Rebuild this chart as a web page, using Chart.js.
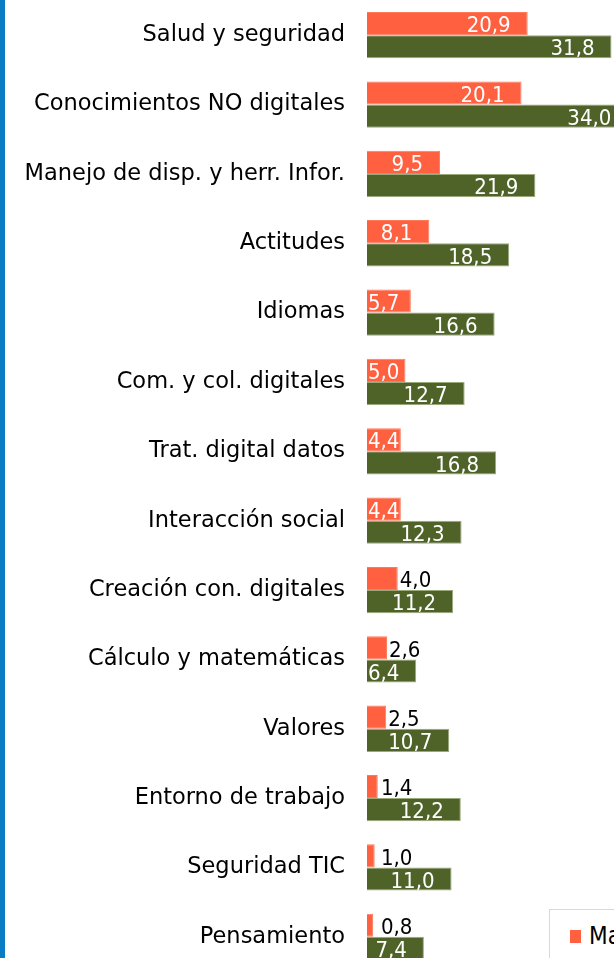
<!DOCTYPE html>
<html>
<head>
<meta charset="utf-8">
<script src="https://cdn.jsdelivr.net/npm/chart.js@4"></script>
<style>
  html, body { margin: 0; padding: 0; background: #fff; }
  body { width: 614px; height: 958px; overflow: hidden; position: relative; }
  #franja { position: absolute; left: 0; top: 0; width: 5px; height: 958px; background: #0a7cc4; z-index: 2; }
  #grafico { position: absolute; left: 5px; top: -35px; }
  #leyenda {
    position: absolute; left: 549px; top: 909px; width: 200px; height: 120px;
    border: 1px solid #d9d9d9; background: #fff;
    font: 24px "DejaVu Sans Condensed", Tahoma, sans-serif; color: #000;
  }
  #leyenda .item { position: absolute; left: 20px; display: flex; align-items: center; white-space: nowrap; }
  #leyenda .cuadro { width: 11px; height: 13px; margin-right: 8px; }
</style>
</head>
<body>
<div id="franja"></div>
<canvas id="grafico" width="708" height="1042"></canvas>
<div id="leyenda"></div>

<script>
// ==============================
// DATOS
// ==============================
const categorias = [
  "Salud y seguridad",
  "Conocimientos NO digitales",
  "Manejo de disp. y herr. Infor.",
  "Actitudes",
  "Idiomas",
  "Com. y col. digitales",
  "Trat. digital datos",
  "Interacción social",
  "Creación con. digitales",
  "Cálculo y matemáticas",
  "Valores",
  "Entorno de trabajo",
  "Seguridad TIC",
  "Pensamiento"
];

const nombresSeries = ["Madrid", "España"];

const serieNaranja = [20.9, 20.1, 9.5, 8.1, 5.7, 5.0, 4.4, 4.4, 4.0, 2.6, 2.5, 1.4, 1.0, 0.8];
const serieVerde   = [31.8, 34.0, 21.9, 18.5, 16.6, 12.7, 16.8, 12.3, 11.2, 6.4, 10.7, 12.2, 11.0, 7.4];

const colores = ["#ff6040", "#4f6228"];
const bordes  = ["#ff7a5c", "#9aa97c"];

// ==============================
// ETIQUETAS DE DATOS
// ==============================
const etiquetas = {
  id: "etiquetas",
  afterDatasetsDraw(chart) {
    const ctx = chart.ctx;
    ctx.save();
    ctx.font = '22px "DejaVu Sans Condensed", Tahoma, sans-serif';
    ctx.textBaseline = "middle";
    chart.data.datasets.forEach((ds, i) => {
      const meta = chart.getDatasetMeta(i);
      meta.data.forEach((bar, j) => {
        const v = ds.data[j];
        const txt = v.toFixed(1).replace(".", ",");
        const w = ctx.measureText(txt).width;
        const y = bar.y + 3;
        if (i === 0 && v <= 4.0) {
          // fuera de la barra, en negro
          ctx.fillStyle = "#000";
          ctx.textAlign = "left";
          ctx.fillText(txt, Math.max(bar.x + 2, bar.base + 14), y);
        } else {
          // dentro del extremo, en blanco
          ctx.fillStyle = "#fff";
          ctx.textAlign = "right";
          ctx.fillText(txt, Math.max(bar.x - 17, bar.base + w + 1), y);
        }
      });
    });
    ctx.restore();
  }
};

// ==============================
// GRÁFICO
// ==============================
Chart.defaults.font.family = '"DejaVu Sans", Tahoma, sans-serif';
Chart.defaults.font.size = 22;
Chart.defaults.color = "#000";

const grafico = new Chart(document.getElementById("grafico"), {
  type: "bar",
  data: {
    labels: categorias,
    datasets: [
      {
        label: nombresSeries[0],
        data: serieNaranja,
        backgroundColor: colores[0],
        borderColor: bordes[0],
        borderWidth: 1,
        categoryPercentage: 0.667,
        barPercentage: 1
      },
      {
        label: nombresSeries[1],
        data: serieVerde,
        backgroundColor: colores[1],
        borderColor: bordes[1],
        borderWidth: 1,
        categoryPercentage: 0.667,
        barPercentage: 1
      }
    ]
  },
  options: {
    indexAxis: "y",
    responsive: false,
    animation: false,
    layout: { padding: 0 },
    plugins: {
      legend: { display: false },
      tooltip: { enabled: false }
    },
    scales: {
      x: { display: false, min: 0, max: 45 },
      y: {
        grid: { display: false, drawTicks: false },
        border: { display: false },
        ticks: { padding: 22, color: "#000", font: { size: 22.5 } },
        afterFit(s) { s.width = 362; }
      }
    }
  },
  plugins: [etiquetas]
});

// ==============================
// LEYENDA
// ==============================
const leyenda = document.getElementById("leyenda");
nombresSeries.forEach((n, i) => {
  const item = document.createElement("div");
  item.className = "item";
  item.style.top = (12 + i * 34) + "px";
  item.innerHTML = '<span class="cuadro" style="background:' + colores[i] + '"></span>' + n;
  leyenda.appendChild(item);
});
</script>
</body>
</html>
